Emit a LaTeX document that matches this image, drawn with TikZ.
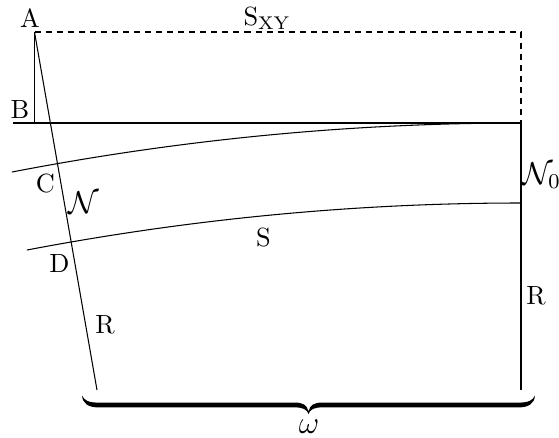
\documentclass[tikz,border=0pt]{standalone}
\usepackage{amsmath}
\begin{document}
\begin{tikzpicture}[x=0.38pt,y=-0.38pt, line width=0.4pt,
  lab/.style={inner sep=0pt, anchor=base},
  dsh/.style={dash pattern=on 2.3pt off 1.9pt}]
\useasboundingbox (0,0) rectangle (559,438);
\coordinate (A) at (34.5,32);
\coordinate (TR) at (521,32);
\coordinate (B) at (34.5,123);
\coordinate (HL) at (13,123);
\coordinate (HR) at (521,123);
\coordinate (BL) at (97,390);
\coordinate (BR) at (521,390);
\coordinate (C1s) at (12,172);
\coordinate (C2s) at (27,250);
\coordinate (C2e) at (521,203);
\coordinate (brL) at (82,395.5);
\coordinate (brR) at (535,395.5);
\coordinate (brM) at (308.5,414);
\draw[dsh] (A) -- (TR) -- (HR);
\draw (A) -- (B);
\draw (HL) -- (HR) -- (BR);
\draw (A) -- (BL);
\draw (C1s) .. controls (181.7,139.3) and (351.3,123) .. (HR);
\draw (C2s) .. controls (191.7,218.7) and (356.3,203) .. (C2e);
% brace
\fill (brL) .. controls (82.5,403) and (88,407.4) .. (98,407.4)
  -- (295,407.4) .. controls (303,407.4) and (307,409.5) .. (brM)
  .. controls (310,409.5) and (314,407.4) .. (322,407.4)
  -- (519,407.4) .. controls (529,407.4) and (534.5,403) .. (brR)
  .. controls (533,400) and (529,402.6) .. (519,402.6)
  -- (322,402.6) .. controls (314,402.6) and (310,405) .. (308.5,411.5)
  .. controls (307,405) and (303,402.6) .. (295,402.6)
  -- (98,402.6) .. controls (88,402.6) and (84,400) .. (brL) -- cycle;
\node[lab] (lA) at (30,27) {A};
\node[lab, anchor=base west] (lS) at (243,26) {$\mathrm{S}_{\mathrm{XY}}$};
\node[lab] (lB) at (20,118) {B};
\node[lab] (lC) at (45.5,192) {C};
\node[lab] (lN) at (84,213) {\large$\mathcal{N}$};
\node[lab] (lD) at (59.5,272) {D};
\node[lab] (lS2) at (263.5,246) {S};
\node[lab] (lR1) at (105,333) {R};
\node[lab] (lR2) at (536,304) {R};
\node[lab, anchor=base west] (lN0) at (522,184) {\large$\mathcal{N}_0$};
\node[lab] (lw) at (309,433) {\large$\omega$};
\end{tikzpicture}
\end{document}
